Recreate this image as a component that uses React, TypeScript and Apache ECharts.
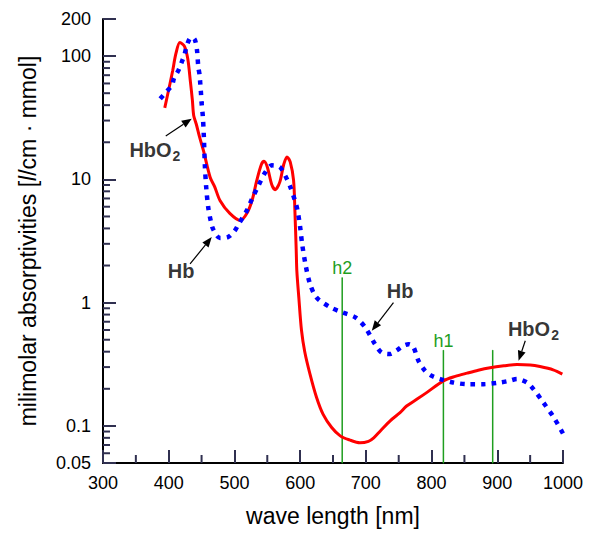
import { useEffect, useRef } from "react";
import * as echarts from "echarts";

// HbO2 (oxygenated hemoglobin) spectrum: wavelength [nm] and absorptivity
const hbo2Wavelengths = [394, 402, 406, 411, 417, 424, 429, 433, 436, 438, 442, 447, 453, 463, 470, 478, 493, 509, 519, 527, 534, 541, 545, 550, 557, 562, 569, 575, 580, 585, 590, 592, 594, 595, 598, 602, 607, 615, 625, 635, 648, 661, 675, 691, 704, 712, 722, 737, 752, 762, 778, 793, 818, 836, 854, 871, 889, 910, 930, 950, 965, 985, 999];
const hbo2Values = [38, 60, 76, 105, 129, 120, 95, 62, 44, 33, 28, 22, 17, 10.4, 8.7, 6.75, 5.3, 4.64, 5.3, 6.8, 9.8, 13.2, 14, 12.6, 9, 8.25, 9.5, 13.2, 15.2, 13.8, 9.8, 5.6, 2.7, 1.8, 1.1, 0.6, 0.4, 0.263, 0.17, 0.124, 0.097, 0.083, 0.077, 0.073, 0.075, 0.08, 0.091, 0.11, 0.128, 0.145, 0.165, 0.187, 0.232, 0.252, 0.268, 0.283, 0.296, 0.307, 0.315, 0.312, 0.303, 0.285, 0.263];

// Hb (deoxygenated hemoglobin) spectrum
const hbWavelengths = [387, 396, 405, 408, 415, 420, 424, 427, 432, 436, 440, 443, 445, 447, 448, 449, 450, 452, 453.5, 455, 457, 460, 464, 468, 478, 490, 500, 506, 519, 527, 537, 547, 557, 569, 577, 585, 592, 596, 600, 603, 608, 615, 625, 646, 664, 684, 699, 714, 724, 737, 747, 757, 765, 772, 780, 790, 800, 813, 833, 854, 879, 904, 918, 930, 945, 955, 970, 986, 1000];
const hbValues = [45, 51, 58, 66, 77, 90, 103, 119, 139, 142, 135, 112, 82, 70, 60, 51, 42, 32, 22, 13, 8.7, 6, 4.6, 3.9, 3.35, 3.4, 3.8, 4.3, 5.6, 7, 9, 11.4, 13, 12.6, 10.8, 8.7, 6.75, 5.6, 4.1, 3.0, 2.06, 1.42, 1.1, 0.916, 0.834, 0.76, 0.63, 0.46, 0.394, 0.383, 0.41, 0.447, 0.46, 0.44, 0.338, 0.28, 0.255, 0.24, 0.225, 0.218, 0.218, 0.225, 0.232, 0.24, 0.225, 0.199, 0.155, 0.117, 0.0866];

// Axis minor ticks (major ticks and labels come from the axes: 300..1000 step 100; 0.05, 0.1, 1, 10, 100, 200)
const xMinorTicks = [350, 450, 550, 650, 750, 850, 950];
const yMinorTicks = [0.06, 0.07, 0.08, 0.09, 0.2, 0.3, 0.4, 0.5, 0.6, 0.7, 0.8, 0.9, 2, 3, 4, 5, 6, 7, 8, 9, 20, 30, 40, 50, 60, 70, 80, 90];

// Vertical marker lines (wavelength, top value, label)
const markerWavelengths = [664, 818, 893];
const markerTops = [1.59, 0.41, 0.41];
const markerNames = ["h2", "h1", ""];

// Annotations (text anchor, arrow tail, arrow head) in data coordinates
const annotationTexts = ["HbO2", "Hb", "Hb", "HbO2"];
const annotationAnchors = [[379, 17.2], [419, 1.79], [752, 1.25], [955, 0.615]];
const arrowTails = [[395.5, 22.5], [432.5, 2.06], [742, 1.0], [942.6, 0.491]];
const arrowHeads = [[435, 31.1], [465.5, 3.4], [709, 0.592], [932.4, 0.338]];

const FONT = "'Liberation Sans', Arial, sans-serif";
const GREEN = "#1f9e1f";
const BLACK = "#000000";
const TICK = "#303050";

export default function App() {
  const ref = useRef<HTMLDivElement>(null);

  useEffect(() => {
    if (!ref.current) return;
    const chart = echarts.init(ref.current, null, { renderer: "svg" });

    const fmtY = (v: number) => {
      if (v >= 1) return String(Math.round(v));
      return String(parseFloat(Number(v).toPrecision(2)));
    };

    const markerSeries = markerWavelengths.map((wl, i) => ({
      type: "line",
      silent: true,
      showSymbol: true,
      symbol: "circle",
      symbolSize: 1,
      itemStyle: { color: GREEN },
      lineStyle: { color: GREEN, width: 1.5 },
      z: 1,
      data: [
        [wl, 0.05],
        {
          value: [wl, markerTops[i]],
          label: {
            show: markerNames[i] !== "",
            formatter: markerNames[i],
            position: "top",
            distance: 0,
            color: GREEN,
            fontSize: 18,
            fontFamily: FONT,
          },
        },
      ],
    }));

    // minor tick marks drawn through the axes' scales (pixel length only)
    const tickSeries = (vals: number[][], dx: number, dy: number) => ({
      type: "custom",
      silent: true,
      clip: false,
      z: 10,
      data: vals,
      renderItem: (_params: any, api: any) => {
        const p = api.coord([api.value(0), api.value(1)]);
        return {
          type: "line",
          shape: { x1: p[0], y1: p[1], x2: p[0] + dx, y2: p[1] + dy },
          style: { stroke: TICK, lineWidth: 2 },
        };
      },
    });

    const option: any = {
      animation: false,
      grid: { left: 103, right: 37, top: 19, bottom: 77 },
      xAxis: {
        type: "value",
        min: 300,
        max: 1000,
        interval: 100,
        axisLine: { show: true, lineStyle: { color: BLACK, width: 2 } },
        axisTick: { show: true, inside: true, length: 13, lineStyle: { color: TICK, width: 2 } },
        axisLabel: { color: BLACK, fontSize: 18, fontFamily: FONT, margin: 11, formatter: (v: number) => String(v) },
        splitLine: { show: false },
        name: "wave length [nm]",
        nameLocation: "middle",
        nameGap: 41,
        nameTextStyle: { color: BLACK, fontSize: 23, fontFamily: FONT },
      },
      yAxis: {
        type: "log",
        logBase: 10,
        min: 0.05,
        max: 200,
        axisLine: { show: true, lineStyle: { color: BLACK, width: 2 } },
        axisTick: { show: true, inside: true, length: 13, lineStyle: { color: TICK, width: 2 } },
        axisLabel: { color: BLACK, fontSize: 18, fontFamily: FONT, margin: 12, formatter: fmtY },
        splitLine: { show: false },
        name: "{n|milimolar absorptivities [}{i|l}{n|/cm · mmol]}",
        nameLocation: "middle",
        nameRotate: 90,
        nameGap: 64,
        nameTextStyle: {
          rich: {
            n: { color: BLACK, fontSize: 23, fontFamily: FONT },
            i: { color: BLACK, fontSize: 23, fontFamily: FONT, fontStyle: "italic" },
          },
        },
      },
      series: [
        ...markerSeries,
        {
          name: "HbO2",
          type: "line",
          showSymbol: false,
          smooth: 0.3,
          lineStyle: { color: "#ff0000", width: 3 },
          itemStyle: { color: "#ff0000" },
          z: 3,
          data: hbo2Wavelengths.map((w, i) => [w, hbo2Values[i]]),
        },
        {
          name: "Hb",
          type: "line",
          showSymbol: false,
          smooth: 0.3,
          lineStyle: { color: "#0000ff", width: 4.5, type: [4.5, 6], cap: "butt" },
          itemStyle: { color: "#0000ff" },
          z: 4,
          data: hbWavelengths.map((w, i) => [w, hbValues[i]]),
        },
        {
          name: "annotations",
          type: "scatter",
          silent: true,
          symbolSize: 1,
          itemStyle: { color: "rgba(0,0,0,0)" },
          z: 6,
          label: {
            show: true,
            position: "inside",
            formatter: (p: any) => (p.name === "HbO2" ? "{b|HbO}{s|2}" : "{b|Hb}"),
            rich: {
              b: { fontSize: 20, fontWeight: "bold", color: BLACK, fontFamily: FONT },
              s: { fontSize: 14, fontWeight: "bold", color: BLACK, fontFamily: FONT, padding: [12, 0, 0, 1] },
            },
          },
          data: annotationAnchors.map((p, i) => ({ name: annotationTexts[i], value: p })),
        },
        {
          name: "arrows",
          type: "custom",
          silent: true,
          clip: false,
          z: 7,
          data: arrowTails.map((t, i) => [t[0], t[1], arrowHeads[i][0], arrowHeads[i][1]]),
          renderItem: (_params: any, api: any) => {
            const a = api.coord([api.value(0), api.value(1)]);
            const b = api.coord([api.value(2), api.value(3)]);
            const dx = b[0] - a[0];
            const dy = b[1] - a[1];
            const len = Math.sqrt(dx * dx + dy * dy);
            const ux = dx / len;
            const uy = dy / len;
            const hl = 10;
            const hw = 4;
            const bx = b[0] - ux * hl;
            const by = b[1] - uy * hl;
            return {
              type: "group",
              children: [
                {
                  type: "line",
                  shape: { x1: a[0], y1: a[1], x2: bx, y2: by },
                  style: { stroke: BLACK, lineWidth: 1.2 },
                },
                {
                  type: "polygon",
                  shape: {
                    points: [
                      [b[0], b[1]],
                      [bx - uy * hw, by + ux * hw],
                      [bx + uy * hw, by - ux * hw],
                    ],
                  },
                  style: { fill: BLACK },
                },
              ],
            };
          },
        },
        tickSeries(xMinorTicks.map((v) => [v, 0.05]), 0, -8),
        tickSeries(yMinorTicks.map((v) => [300, v]), 7, 0),
      ],
    };

    chart.setOption(option);
    return () => chart.dispose();
  }, []);

  return <div ref={ref} style={{ width: 600, height: 540, margin: -8 }} />;
}
